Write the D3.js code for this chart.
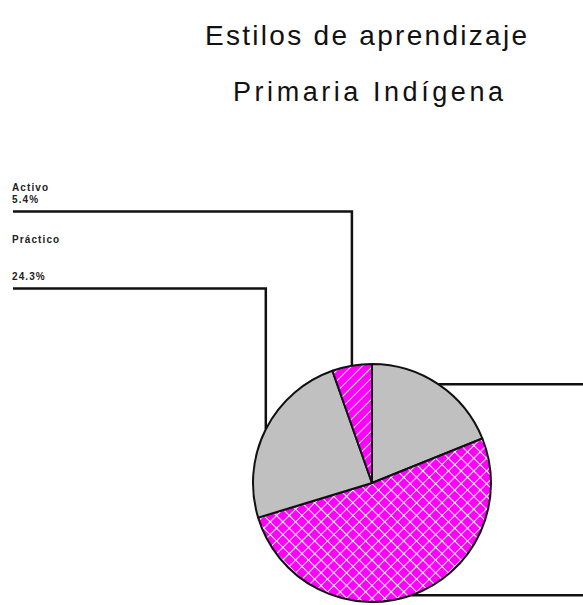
<!DOCTYPE html>
<html>
<head>
<meta charset="utf-8">
<script src="https://cdn.jsdelivr.net/npm/d3@7"></script>
<style>
  body { margin: 0; background: #fff; }
  svg { display: block; font-family: Arial, "Liberation Sans", sans-serif; }
</style>
</head>
<body>
<div id="chart"></div>
<script>
// data, clockwise from 12 o'clock
const categories = ["Reflexivo", "Teórico", "Práctico", "Activo"];
const values = [18.9, 51.4, 24.3, 5.4];
const fills = ["gray", "cross", "gray", "diag"];

const titleText = "Estilos de aprendizaje";
const subtitleText = "Primaria Indígena";

const width = 583, height = 605;
const cx = 372, cy = 483, radius = 119;

const svg = d3.select("#chart").append("svg")
  .attr("width", width)
  .attr("height", height);

// hatch patterns
const defs = svg.append("defs");
const cross = defs.append("pattern")
  .attr("id", "cross")
  .attr("patternUnits", "userSpaceOnUse")
  .attr("width", 9).attr("height", 9)
  .attr("patternTransform", "rotate(45)");
cross.append("rect").attr("width", 9).attr("height", 9).attr("fill", "#ff00ff");
cross.append("path").attr("d", "M0,0 V9 M0,0 H9")
  .attr("stroke", "#fff").attr("stroke-width", 2);

const diag = defs.append("pattern")
  .attr("id", "diag")
  .attr("patternUnits", "userSpaceOnUse")
  .attr("width", 7.5).attr("height", 7.5)
  .attr("patternTransform", "rotate(45)");
diag.append("rect").attr("width", 7.5).attr("height", 7.5).attr("fill", "#ff00ff");
diag.append("path").attr("d", "M0,0 V7.5")
  .attr("stroke", "#fff").attr("stroke-width", 1.8);

const fillOf = { gray: "#c0c0c0", cross: "url(#cross)", diag: "url(#diag)" };

// titles
svg.append("text")
  .attr("x", 366).attr("y", 45)
  .attr("text-anchor", "middle")
  .attr("font-size", 28)
  .attr("textLength", 322).attr("lengthAdjust", "spacing")
  .attr("fill", "#111")
  .text(titleText);

svg.append("text")
  .attr("x", 368).attr("y", 101)
  .attr("text-anchor", "middle")
  .attr("font-size", 27)
  .attr("textLength", 270).attr("lengthAdjust", "spacing")
  .attr("fill", "#111")
  .text(subtitleText);

// pie
const data = categories.map((c, i) => ({ name: c, value: values[i], fill: fills[i] }));
const pie = d3.pie().value(d => d.value).sort(null);
const arcs = pie(data);
const arc = d3.arc().innerRadius(0).outerRadius(radius);

const g = svg.append("g").attr("transform", "translate(" + cx + "," + cy + ")");
g.selectAll("path.slice")
  .data(arcs)
  .enter().append("path")
  .attr("class", "slice")
  .attr("d", arc)
  .attr("fill", d => fillOf[d.data.fill])
  .attr("stroke", "#111")
  .attr("stroke-width", 2)
  .attr("stroke-linejoin", "round");

// leader lines and labels (right-hand labels fall outside the frame)
const fmt = d => d3.format(".1f")(d) + "%";
const labelLineY = { "Activo": 211.5, "Práctico": 288.5 };
const nameGap = { "Activo": 21, "Práctico": 46 };
const leftX = 13;

const leaders = svg.append("g")
  .attr("fill", "none")
  .attr("stroke", "#111")
  .attr("stroke-width", 2.5)
  .attr("stroke-linejoin", "miter");

arcs.forEach(a => {
  const mid = (a.startAngle + a.endAngle) / 2;
  const ex = cx + radius * Math.sin(mid);
  const ey = cy - radius * Math.cos(mid);
  const name = a.data.name;
  if (mid > Math.PI) {
    const ly = labelLineY[name];
    leaders.append("path").attr("d", d3.line()([[ex, ey], [ex, ly], [leftX, ly]]));
    svg.append("text")
      .attr("x", leftX - 1).attr("y", ly - 8.5)
      .attr("font-size", 10).attr("font-weight", "bold")
      .attr("letter-spacing", 1.1)
      .attr("fill", "#222")
      .text(fmt(a.data.value));
    svg.append("text")
      .attr("x", leftX - 1).attr("y", ly - nameGap[name])
      .attr("font-size", 10).attr("font-weight", "bold")
      .attr("letter-spacing", 1.1)
      .attr("fill", "#222")
      .text(name);
  } else {
    leaders.append("path").attr("d", d3.line()([[ex, ey], [width + 20, ey]]));
  }
});
</script>
</body>
</html>
